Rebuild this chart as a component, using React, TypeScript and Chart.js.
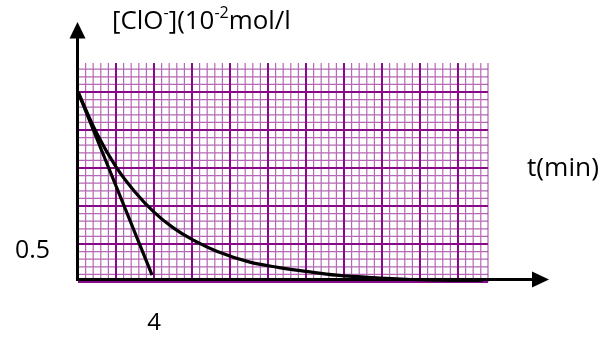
import { useEffect, useRef } from "react";
import { Chart, registerables } from "chart.js";

Chart.register(...registerables);

// Concentration curve (y in major-grid units, x in minutes)
const curveTimes = [0, 1, 2, 3, 4, 5, 6, 7.3, 9, 10.6, 12, 13.6, 15.9, 18, 21.3];
const curveConc = [5.0, 3.9, 3.03, 2.37, 1.84, 1.43, 1.12, 0.81, 0.53, 0.38, 0.28, 0.18, 0.105, 0.06, 0.03];
// Tangent at t = 0
const tangentTimes = [0, 3.9];
const tangentConc = [5.0, 0.18];
// Axis ranges / grid
const xMax = 21.58;
const yMax = 5.763;
const xMinorStep = 0.4;
const yMinorStep = 0.2;
// Texts
const titleParts: [string, boolean][] = [
  ["[ClO", false],
  ["-", true],
  ["](10", false],
  ["-2", true],
  ["mol/l", false],
];
const xAxisTitle = "t(min)";
const yTickText = "0.5";
const xTickText = "4";
const xTickValue = 4;

const FONT = "'Open Sans', 'Liberation Sans', sans-serif";

function fitFont(ctx: CanvasRenderingContext2D, text: string, width: number) {
  ctx.font = `100px ${FONT}`;
  const w = ctx.measureText(text).width;
  return (100 * width) / w;
}

export default function App() {
  const ref = useRef<HTMLCanvasElement | null>(null);

  useEffect(() => {
    const canvas = ref.current;
    if (!canvas) return;

    const gridPlugin = {
      id: "paperGrid",
      beforeDatasetsDraw(chart: any) {
        const { ctx, chartArea, scales } = chart;
        const xs = scales.x;
        const ys = scales.y;
        ctx.save();
        ctx.beginPath();
        ctx.rect(chartArea.left, chartArea.top, chartArea.right - chartArea.left + 1, chartArea.bottom - chartArea.top + 1);
        ctx.clip();
        const drawLines = (major: boolean) => {
          ctx.strokeStyle = major ? "#880a88" : "rgba(150,40,150,0.7)";
          ctx.lineWidth = major ? 2 : 1.2;
          ctx.beginPath();
          for (let i = 0; i * xMinorStep <= xMax + 1e-9; i++) {
            if ((i % 5 === 0) !== major) continue;
            const px = xs.getPixelForValue(i * xMinorStep);
            ctx.moveTo(px, chartArea.top);
            ctx.lineTo(px, chartArea.bottom);
          }
          for (let i = 0; i * yMinorStep <= yMax + 1e-9; i++) {
            if ((i % 5 === 0) !== major) continue;
            const py = ys.getPixelForValue(i * yMinorStep);
            ctx.moveTo(chartArea.left, py);
            ctx.lineTo(chartArea.right, py);
          }
          ctx.stroke();
        };
        drawLines(false);
        drawLines(true);
        ctx.strokeStyle = "rgba(150,40,150,0.6)";
        ctx.lineWidth = 1.5;
        ctx.beginPath();
        ctx.moveTo(chartArea.right, chartArea.top);
        ctx.lineTo(chartArea.right, chartArea.bottom);
        ctx.stroke();
        ctx.restore();
      },
      afterDatasetsDraw(chart: any) {
        const { ctx, scales } = chart;
        const x0 = scales.x.getPixelForValue(0) - 0.5;
        const yb = scales.y.getPixelForValue(0) - 2.5;
        ctx.save();
        ctx.fillStyle = "#000";
        ctx.strokeStyle = "#000";
        ctx.lineWidth = 3;
        // y axis
        ctx.beginPath();
        ctx.moveTo(x0, yb + 1.5);
        ctx.lineTo(x0, 36);
        ctx.stroke();
        ctx.beginPath();
        ctx.moveTo(x0, 22);
        ctx.lineTo(x0 + 8, 38.5);
        ctx.lineTo(x0 - 8, 38.5);
        ctx.closePath();
        ctx.fill();
        // x axis
        ctx.beginPath();
        ctx.moveTo(x0 - 1.5, yb);
        ctx.lineTo(535, yb);
        ctx.stroke();
        ctx.beginPath();
        ctx.moveTo(549, yb);
        ctx.lineTo(532, yb - 8);
        ctx.lineTo(532, yb + 8);
        ctx.closePath();
        ctx.fill();

        ctx.textBaseline = "alphabetic";
        ctx.textAlign = "left";
        let s = fitFont(ctx, xAxisTitle, 72);
        ctx.font = `${s}px ${FONT}`;
        ctx.fillText(xAxisTitle, 527, 176);
        s = fitFont(ctx, yTickText, 35);
        ctx.font = `${s}px ${FONT}`;
        ctx.fillText(yTickText, 15, 258);
        ctx.font = `24px ${FONT}`;
        ctx.textAlign = "center";
        ctx.fillText(xTickText, scales.x.getPixelForValue(xTickValue), 330);
        ctx.textAlign = "left";
        const base = 22;
        const supScale = 0.62;
        const measure = (size: number) => {
          let w = 0;
          for (const [t, sup] of titleParts) {
            ctx.font = `${sup ? size * supScale : size}px ${FONT}`;
            w += ctx.measureText(t).width;
          }
          return w;
        };
        const size = (base * 179) / measure(base);
        let x = 112;
        const baseline = 28.5;
        for (const [t, sup] of titleParts) {
          const fs = sup ? size * supScale : size;
          ctx.font = `${fs}px ${FONT}`;
          ctx.fillText(t, x, sup ? baseline - size * 0.42 : baseline);
          x += ctx.measureText(t).width;
        }
        ctx.restore();
      },
    };

    const chart = new Chart(canvas, {
      type: "line",
      data: {
        datasets: [
          {
            data: curveTimes.map((t, i) => ({ x: t, y: curveConc[i] })),
            borderColor: "#000",
            borderWidth: 3.2,
            pointRadius: 0,
            tension: 0.4,
            fill: false,
          },
          {
            data: tangentTimes.map((t, i) => ({ x: t, y: tangentConc[i] })),
            borderColor: "#000",
            borderWidth: 3.2,
            pointRadius: 0,
            fill: false,
          },
        ],
      },
      options: {
        responsive: false,
        animation: false,
        devicePixelRatio: 1,
        layout: { padding: { left: 78, right: 122, top: 63, bottom: 60 } },
        scales: {
          x: { type: "linear", min: 0, max: xMax, display: false },
          y: { type: "linear", min: 0, max: yMax, display: false },
        },
        plugins: { legend: { display: false }, tooltip: { enabled: false } },
      },
      plugins: [gridPlugin],
    } as any);

    return () => chart.destroy();
  }, []);

  return (
    <canvas
      ref={ref}
      width={610}
      height={342}
      style={{ position: "absolute", left: 0, top: 0, width: 610, height: 342, background: "#fff" }}
    />
  );
}
